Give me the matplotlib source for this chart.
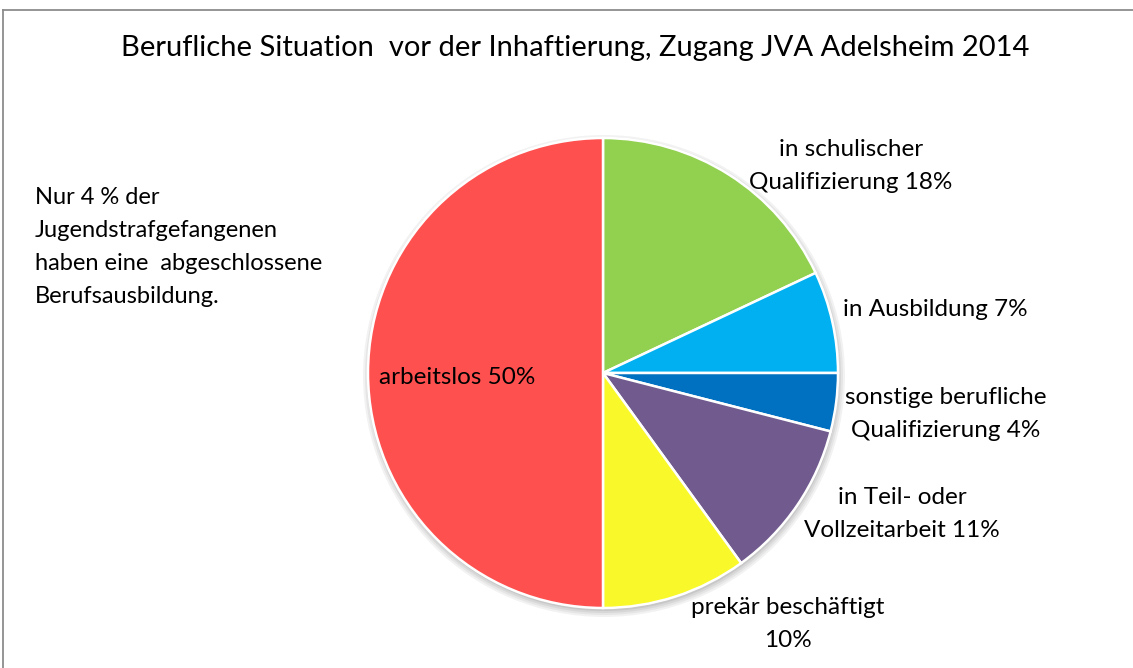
import matplotlib
matplotlib.use("Agg")
import matplotlib.pyplot as plt
from matplotlib.lines import Line2D
from matplotlib.patches import Circle

plt.rcParams["font.family"] = ["Lato", "DejaVu Sans"]

# data, clockwise from 12 o'clock
categories = [
    "in schulischer\nQualifizierung",
    "in Ausbildung",
    "sonstige berufliche\nQualifizierung",
    "in Teil- oder\nVollzeitarbeit",
    "prekär beschäftigt\n",
    "arbeitslos",
]
shares = [18, 7, 4, 11, 10, 50]
colors = ["#92D050", "#00B0F0", "#0070C0", "#705A8E", "#F8F82A", "#FF5050"]

title = "Berufliche Situation  vor der Inhaftierung, Zugang JVA Adelsheim 2014"
note = "Nur 4 % der\nJugendstrafgefangenen\nhaben eine  abgeschlossene\nBerufsausbildung."

# label centres in pixel coords (x, y from top)
label_pos = [(851, 166), (935, 310), (946, 414), (902, 514), (788, 624), (457, 378)]

W, H = 1133, 668
fig = plt.figure(figsize=(W / 100, H / 100), dpi=100)
ax = fig.add_axes([0, 0, 1, 1])

cx, cy, r = 603, H - 373, 235

# soft shadow under the pie
for i, a in enumerate([0.05, 0.05, 0.06, 0.07]):
    ax.add_patch(Circle((cx + 1, cy - 3), r + 6 - i * 2, color="black", alpha=a, lw=0, zorder=0))

ax.pie(shares, colors=colors, startangle=90, counterclock=False,
       center=(cx, cy), radius=r, frame=True,
       wedgeprops=dict(edgecolor="white", linewidth=1.8, zorder=1))

for cat, val, (lx, ly) in zip(categories, shares, label_pos):
    if cat.endswith("\n"):
        txt = f"{cat}{val}%"
    else:
        txt = f"{cat} {val}%"
    ax.text(lx, H - ly, txt, ha="center", va="center", fontsize=17.5,
            linespacing=1.75, color="black", zorder=3)

ax.text(575, H - 48, title, ha="center", va="center", fontsize=21, color="black")
ax.text(35, H - 247, note, ha="left", va="center", fontsize=17,
        linespacing=1.7, color="black")

ax.set_xlim(0, W)
ax.set_ylim(0, H)
ax.axis("off")

# outer chart frame
fig.add_artist(Line2D([3 / W, 3 / W], [0, 1 - 10 / H], color="#8c8c8c", lw=1.3))
fig.add_artist(Line2D([3 / W, 1], [1 - 10 / H, 1 - 10 / H], color="#8c8c8c", lw=1.3))

fig.savefig("out.png", dpi=100, facecolor="white")
